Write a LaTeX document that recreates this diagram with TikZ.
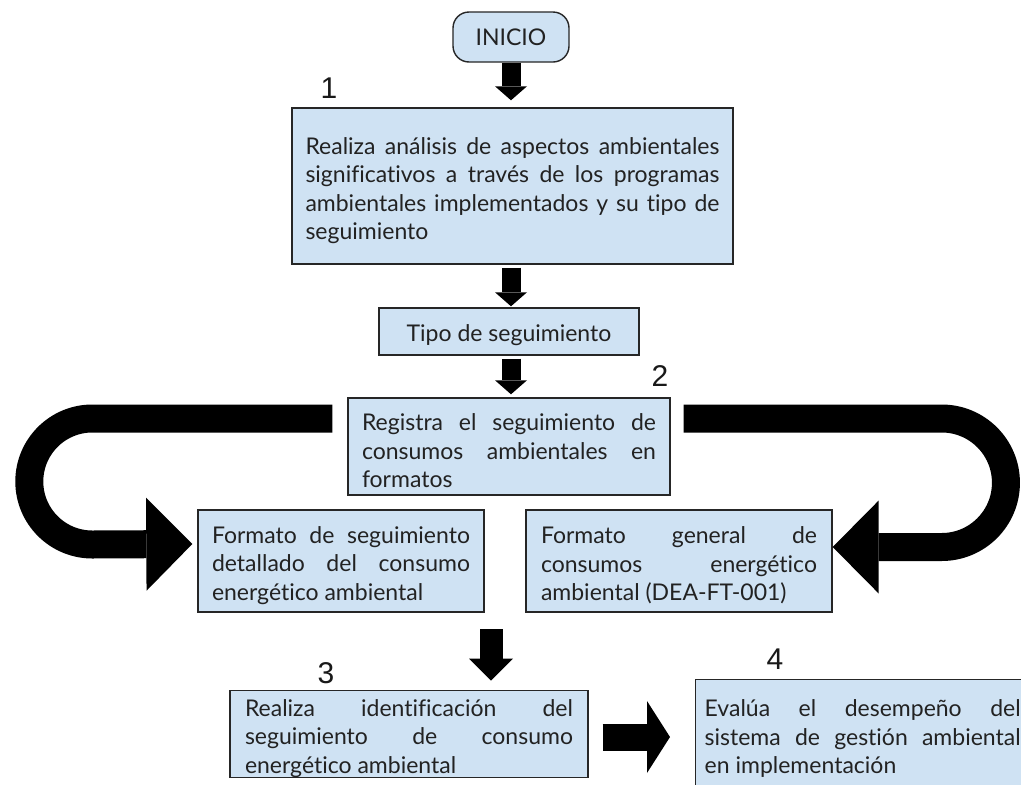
\documentclass[tikz,border=0pt]{standalone}
\usepackage{fontspec}
\setmainfont{Lato}[Ligatures={NoCommon}]
\newfontfamily\numfont{Liberation Sans}
\usetikzlibrary{arrows.meta,calc}
\definecolor{boxblue}{HTML}{CFE2F3}
\definecolor{txt}{HTML}{222222}
\newcommand\topstrut{\rule{0pt}{26pt}}
\begin{document}
\begin{tikzpicture}[x=1pt,y=-1pt,
  box/.style={draw=black!85, line width=1.4pt, fill=boxblue, text=txt,
    font=\fontsize{23}{28.5}\selectfont, inner ysep=0pt},
  jbox/.style={box, align=justify},
  numlabel/.style={font=\numfont\fontsize{30}{30}\selectfont, text=black!90, inner sep=0pt},
  smallarrow/.style={line width=19pt, -{Triangle[width=32pt,length=14pt,line width=0pt]}},
  bigband/.style={line width=28pt, -{Triangle[width=93pt,length=46pt,line width=0pt]}}
]
\useasboundingbox (0,0) rectangle (1021,785);
\fill[white] (0,0) rectangle (1021,785);

% nodes
\node[box, rounded corners=16pt, minimum width=116pt, minimum height=50pt, inner sep=0pt] (ini) at (511,37) {INICIO};
\node[jbox, text width=414pt, inner xsep=13.5pt, minimum height=156pt] (b1) at (512.5,186)
 {\topstrut Realiza análisis de aspectos ambientales\linebreak significativos a través de los programas\linebreak ambientales implementados y su tipo de\linebreak seguimiento};
\node[box, minimum width=260pt, minimum height=47pt, text height=20pt, text depth=0.4pt] (tipo) at (509,331.5) {Tipo de seguimiento};
\node[jbox, text width=294pt, inner xsep=14pt, minimum height=97pt] (b2) at (509,446.5)
 {\topstrut Registra el seguimiento de\linebreak consumos ambientales en\linebreak formatos};
\node[jbox, text width=258pt, inner xsep=14pt, minimum height=102pt] (f1) at (341,561)
 {\topstrut Formato de seguimiento\linebreak detallado del consumo\linebreak energético ambiental};
\node[jbox, text width=276pt, inner xsep=15pt, minimum height=102pt] (f2) at (679,561)
 {\topstrut Formato general de\linebreak consumos energético\linebreak ambiental (DEA-FT-001)};
\node[jbox, text width=328pt, inner xsep=15pt, minimum height=86pt] (b3) at (409,734)
 {\topstrut Realiza identificación del\linebreak seguimiento de consumo\linebreak energético ambiental};
\node[jbox, text width=316pt, inner xsep=9pt, inner ysep=20pt, anchor=north west] (b4) at (695,679)
 {Evalúa el desempeño del\linebreak sistema de gestión ambiental\linebreak en implementación};

% step numbers
\node[numlabel] (n1) at (329,88) {1};
\node[numlabel] (n2) at (660,376) {2};
\node[numlabel] (n3) at (326,673) {3};
\node[numlabel] (n4) at (775,659) {4};

% straight arrows
\draw[smallarrow, shorten >=7pt] (ini.south) -- (ini.south |- b1.north);
\draw[smallarrow, shorten <=3pt, shorten >=1pt] (ini.south |- b1.south) -- (ini.south |- tipo.north);
\draw[smallarrow, shorten <=3pt, shorten >=3pt] (ini.south |- tipo.south) -- (ini.south |- b2.north);
\coordinate (a4s) at (491,629);
\draw[line width=23pt, -{Triangle[width=44pt,length=22pt,line width=0pt]}, shorten >=9pt] (a4s) -- (a4s |- b3.north);
\draw[line width=27pt, -{Triangle[width=72pt,length=23pt,line width=0pt]}, shorten <=14pt, shorten >=25pt]
  ([yshift=-3pt]b3.east) -- ([yshift=-3pt]b3.east -| b4.west);

% U-turn arrows
\draw[bigband] ([xshift=-15pt,yshift=28pt]b2.west) -- ++(-240,0)
  arc[start angle=90, end angle=270, radius=63pt] -- ([xshift=-5pt,yshift=17pt]f1.west);
\draw[bigband] ([xshift=13pt,yshift=28pt]b2.east) -- ++(258,0)
  arc[start angle=90, end angle=-90, radius=64.25pt] -- ([yshift=14pt]f2.east);
\end{tikzpicture}
\end{document}
